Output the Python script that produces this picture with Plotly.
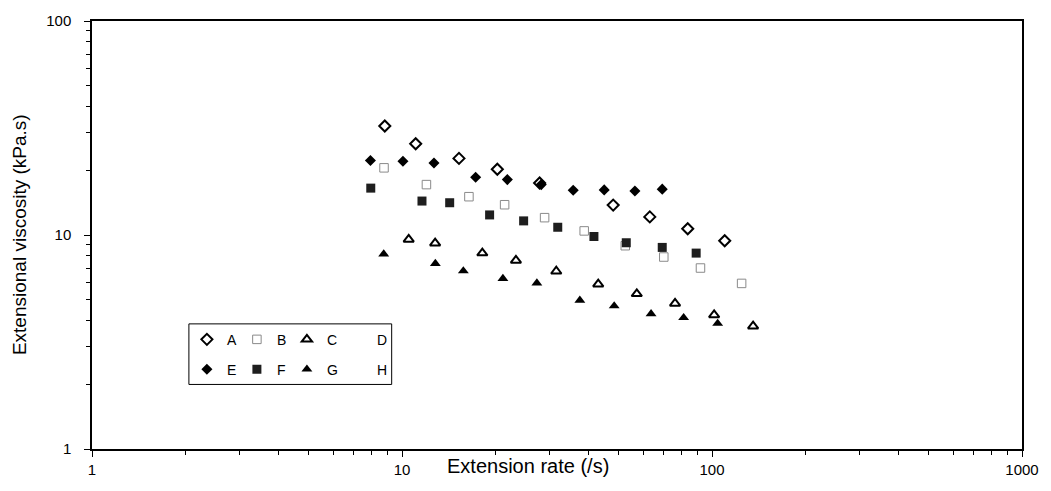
import plotly.graph_objects as go

# ---- data ----
A_x = [8.80, 11.07, 15.27, 20.30, 27.79, 48.0, 63.0, 83.5, 109.9]
A_y = [32.3, 26.7, 22.8, 20.3, 17.5, 13.8, 12.15, 10.7, 9.40]

B_x = [8.75, 11.99, 16.44, 21.43, 28.84, 38.7, 52.5, 69.9, 91.8, 124.6]
B_y = [20.6, 17.2, 15.1, 13.85, 12.05, 10.45, 8.91, 7.89, 7.01, 5.94]

C_x = [10.51, 12.79, 18.16, 23.31, 31.45, 42.95, 57.2, 76.0, 101.6, 135.7]
C_y = [9.53, 9.16, 8.23, 7.61, 6.77, 5.89, 5.31, 4.79, 4.23, 3.75]

D_x = [None]
D_y = [None]

E_x = [7.91, 10.07, 12.68, 17.28, 21.87, 28.13, 35.67, 44.9, 56.4, 69.1]
E_y = [22.3, 22.1, 21.7, 18.6, 18.15, 17.2, 16.2, 16.25, 16.04, 16.38]

F_x = [7.93, 11.6, 14.25, 19.17, 24.68, 31.8, 41.6, 52.9, 69.1, 88.9]
F_y = [16.56, 14.41, 14.15, 12.41, 11.64, 10.87, 9.84, 9.20, 8.75, 8.23]

G_x = [8.73, 12.81, 15.77, 21.16, 27.23, 37.47, 48.36, 63.6, 81.0, 104.3]
G_y = [8.15, 7.35, 6.79, 6.26, 5.96, 4.95, 4.66, 4.28, 4.11, 3.86]

H_x = [None]
H_y = [None]

x_ticks = [1, 10, 100, 1000]
x_tick_text = ["1", "10", "100", "1000"]
y_ticks = [1, 10, 100]
y_tick_text = ["1", "10", "100"]

FONT = "Liberation Sans, Arial, sans-serif"

fig = go.Figure()

def add(name, x, y, symbol, size, color, lw, lcolor, legend):
    fig.add_trace(go.Scatter(
        x=x, y=y, mode="markers", name=name, legend=legend,
        marker=dict(symbol=symbol, size=size, color=color,
                    line=dict(width=lw, color=lcolor)),
    ))

add("A", A_x, A_y, "diamond-open", 8.5, "black", 2, "black", "legend")
add("B", B_x, B_y, "square-open", 8.5, "#8a8a8a", 1, "#8a8a8a", "legend")
add("C", C_x, C_y, "triangle-up-open", 9, "black", 2, "black", "legend")
add("D", D_x, D_y, "circle", 8, "rgba(0,0,0,0)", 0, "rgba(0,0,0,0)", "legend")
add("E", E_x, E_y, "diamond", 8.5, "black", 0, "black", "legend2")
add("F", F_x, F_y, "square", 9, "#1e1e1e", 0, "#1e1e1e", "legend2")
add("G", G_x, G_y, "triangle-up", 9.5, "black", 0, "black", "legend2")
add("H", H_x, H_y, "circle", 8, "rgba(0,0,0,0)", 0, "rgba(0,0,0,0)", "legend2")

axis_common = dict(
    type="log", showgrid=False, zeroline=False,
    showline=True, linecolor="black", linewidth=1.5, mirror=True,
    ticks="outside", ticklen=6, tickwidth=1, tickcolor="black",
    tickfont=dict(family=FONT, size=15, color="black"),
    minor=dict(ticks="outside", ticklen=4, tickwidth=1, tickcolor="black", dtick="D1", showgrid=False),
)

fig.update_xaxes(range=[0, 3], tickvals=x_ticks, ticktext=x_tick_text, **axis_common)
fig.update_yaxes(range=[0, 2], tickvals=y_ticks, ticktext=y_tick_text, ticklabelstandoff=10, **axis_common)

PL, PR, PT, PB = 92, 28, 18, 42
W, H = 1051, 491
pw, ph = W - PL - PR, H - PT - PB

def px_x(p):
    return (p - PL) / pw

def px_y(p):
    return (H - PB - p) / ph

legend_common = dict(
    orientation="h", xanchor="left", yanchor="middle",
    bgcolor="rgba(0,0,0,0)", borderwidth=0,
    entrywidth=5, entrywidthmode="pixels", itemwidth=30,
    font=dict(family=FONT, size=14, color="black"),
)

fig.update_layout(
    width=W, height=H,
    margin=dict(l=PL, r=PR, t=PT, b=PB),
    paper_bgcolor="white", plot_bgcolor="white",
    showlegend=True,
    legend=dict(x=px_x(187), y=px_y(339), **legend_common),
    legend2=dict(x=px_x(187), y=px_y(369), **legend_common),
    shapes=[dict(type="rect", xref="paper", yref="paper",
                 x0=px_x(189), x1=px_x(392), y0=px_y(384), y1=px_y(323),
                 line=dict(color="black", width=1))],
    annotations=[
        dict(text="Extension rate (/s)", xref="paper", yref="paper",
             x=px_x(528), y=px_y(466), showarrow=False,
             xanchor="center", yanchor="middle",
             font=dict(family=FONT, size=20, color="black")),
        dict(text="Extensional viscosity (kPa.s)", xref="paper", yref="paper",
             x=px_x(19), y=0.5, showarrow=False, textangle=-90,
             xanchor="center", yanchor="middle",
             font=dict(family=FONT, size=19, color="black")),
    ],
)

fig.write_html("out.html")
